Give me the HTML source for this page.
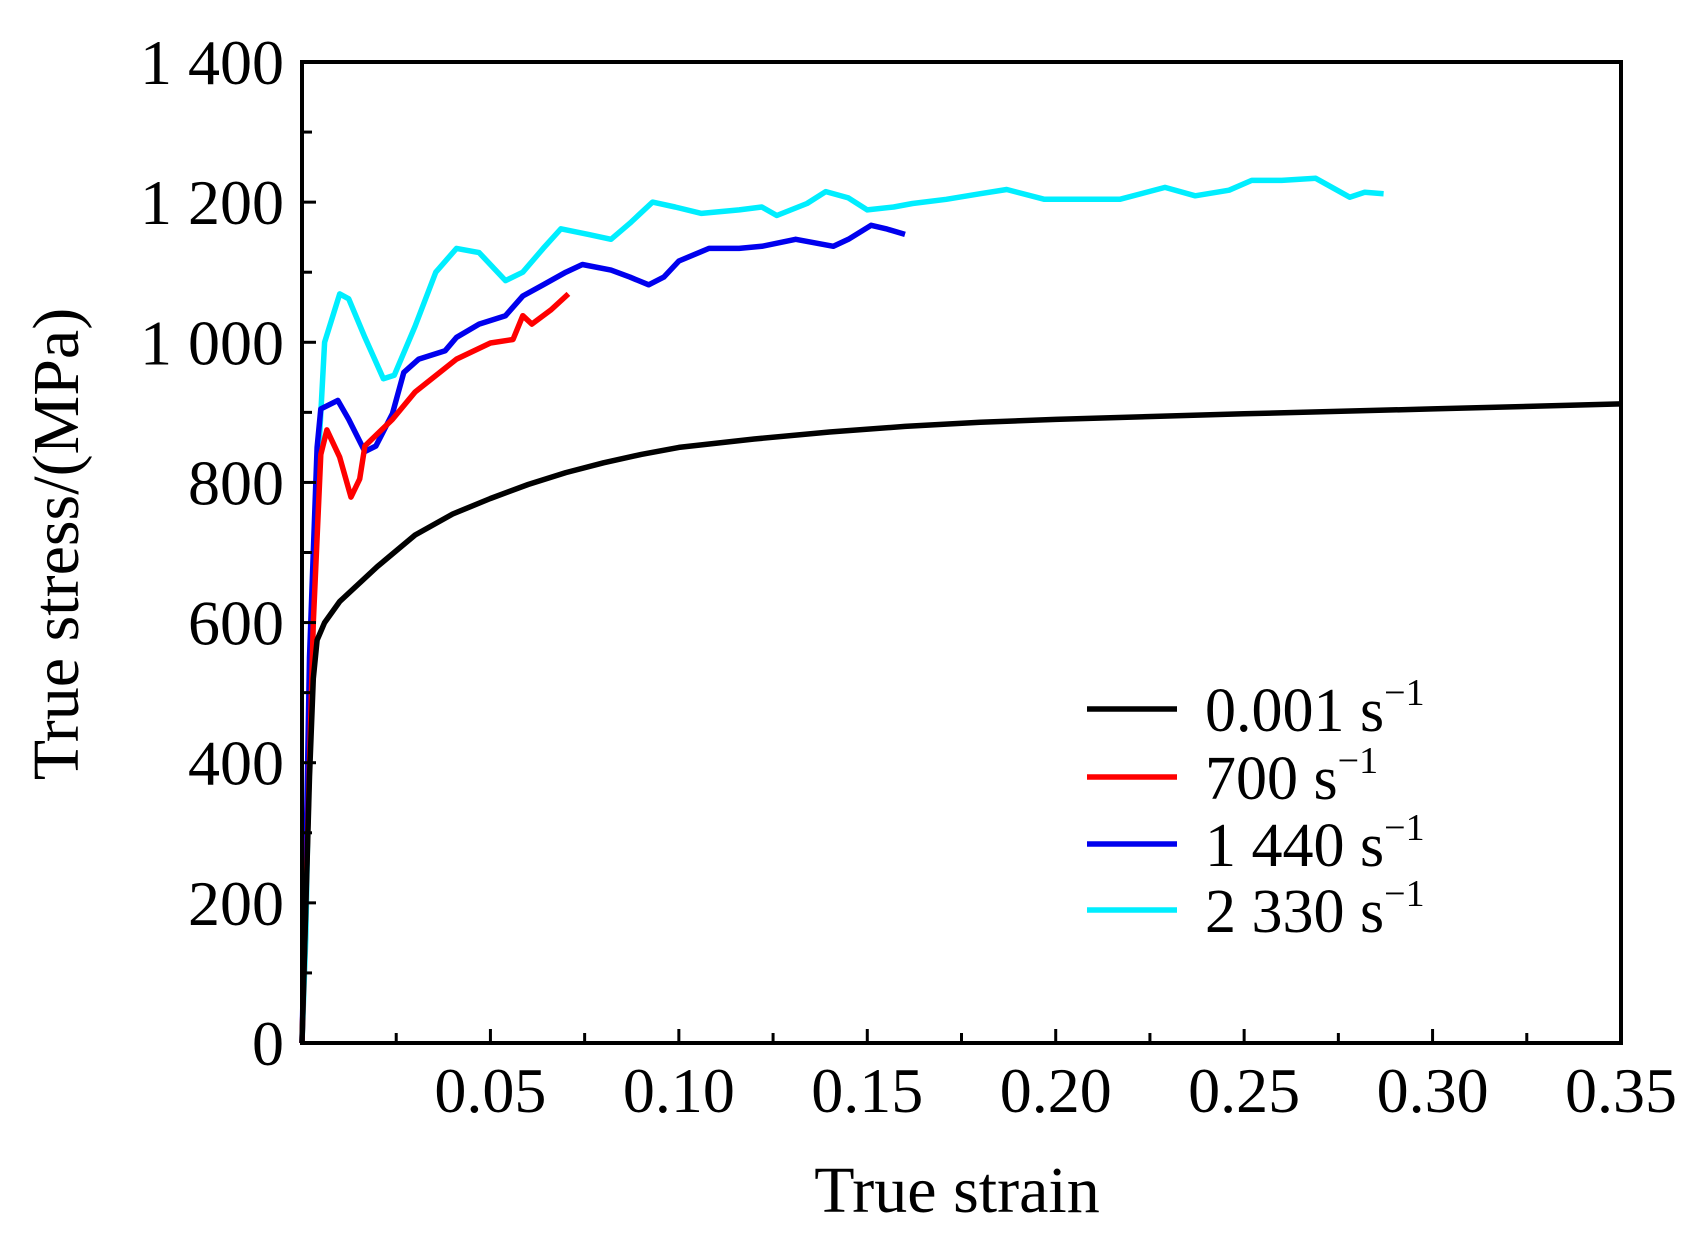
<!DOCTYPE html>
<html><head><meta charset="utf-8"><style>
html,body{margin:0;padding:0;background:#fff;}
svg{display:block;}
text{font-family:"Liberation Serif",serif;fill:#000;}
</style></head><body>
<svg id="chart" width="1705" height="1241" viewBox="0 0 1705 1241">
<g id="marks"></g>
<g id="axes"></g>
<g id="legend"></g>
<text x="957" y="1212" font-size="66" text-anchor="middle">True strain</text>
<text transform="translate(78,544) rotate(-90)" font-size="66" text-anchor="middle">True stress/(MPa)</text>
</svg>
<script>
const xTicks = [0.05,0.10,0.15,0.20,0.25,0.30,0.35];
const xTickLabels = ["0.05","0.10","0.15","0.20","0.25","0.30","0.35"];
const yTicks = [0,200,400,600,800,1000,1200,1400];
const yTickLabels = ["0","200","400","600","800","1 000","1 200","1 400"];
const seriesNames = ["0.001 s","700 s","1 440 s","2 330 s"];
const seriesColors = ["#000000","#ff0000","#0000ee","#00eeff"];
const strain001 = [0,0.002,0.003,0.004,0.006,0.01,0.02,0.03,0.04,0.05,0.06,0.07,0.08,0.09,0.10,0.12,0.14,0.16,0.18,0.20,0.25,0.30,0.35];
const stress001 = [0,380,520,575,600,630,680,725,755,777,797,814,828,840,850,862,872,880,886,890,898,905,912];
const strain700 = [0,0.001,0.003,0.005,0.0066,0.010,0.013,0.0153,0.0167,0.024,0.030,0.041,0.050,0.056,0.0586,0.061,0.066,0.0707];
const stress700 = [0,200,600,840,875,836,779,805,852,890,929,976,999,1004,1038,1026,1046,1069];
const strain1440 = [0,0.001,0.002,0.004,0.005,0.0095,0.0124,0.0167,0.0196,0.024,0.027,0.031,0.038,0.041,0.047,0.054,0.0586,0.064,0.070,0.0744,0.082,0.087,0.092,0.096,0.100,0.108,0.116,0.122,0.131,0.141,0.145,0.151,0.155,0.160];
const stress1440 = [0,250,550,850,905,917,890,844,852,898,957,976,988,1007,1026,1038,1066,1082,1100,1111,1103,1093,1082,1093,1116,1134,1134,1137,1147,1137,1147,1167,1162,1154];
const strain2330 = [0,0.001,0.002,0.004,0.006,0.010,0.0124,0.0167,0.0216,0.0245,0.030,0.0355,0.041,0.047,0.054,0.0586,0.064,0.0687,0.076,0.082,0.087,0.093,0.099,0.106,0.116,0.122,0.126,0.134,0.139,0.145,0.150,0.157,0.162,0.171,0.180,0.187,0.197,0.206,0.217,0.229,0.237,0.246,0.252,0.260,0.269,0.278,0.282,0.287];
const stress2330 = [0,150,450,800,1000,1069,1062,1007,948,953,1023,1100,1134,1128,1088,1100,1134,1162,1154,1147,1170,1200,1193,1184,1189,1193,1181,1198,1215,1206,1189,1193,1198,1204,1212,1218,1204,1204,1204,1221,1209,1217,1231,1231,1234,1207,1214,1212];

const X0=302, X1=1621, Y0=1043, Y1=62;
const sx = v => X0 + v/0.35*(X1-X0);
const sy = v => Y0 - v/1400*(Y0-Y1);
const NS="http://www.w3.org/2000/svg";
function mk(tag, attrs, parent){const e=document.createElementNS(NS,tag);for(const k in attrs)e.setAttribute(k,attrs[k]);parent.appendChild(e);return e;}
const marks=document.getElementById('marks'), axes=document.getElementById('axes'), legend=document.getElementById('legend');

const allX=[strain001,strain700,strain1440,strain2330];
const allY=[stress001,stress700,stress1440,stress2330];
const ids=["curve-0-001","curve-700","curve-1440","curve-2330"];
for(let s=3;s>=0;s--){
  const d=allX[s].map((x,i)=>(i?'L':'M')+sx(x).toFixed(1)+','+sy(allY[s][i]).toFixed(1)).join(' ');
  const p=mk('path',{d:d,fill:'none',stroke:seriesColors[s],'stroke-width':5.5,'stroke-linejoin':'round'},marks);
  
  
}
const fr=mk('rect',{x:X0,y:Y1,width:X1-X0,height:Y0-Y1,fill:'none',stroke:'#000','stroke-width':4},axes);


for(let i=1;i<14;i++){
  const v=i*0.025, len=(i%2===0)?14:10;
  const t=mk('line',{x1:sx(v),x2:sx(v),y1:Y0,y2:Y0-len,stroke:'#000','stroke-width':3},axes);
  
  
}
xTicks.forEach((v,i)=>{
  const t=mk('text',{x:sx(v),y:1112,'font-size':64,'text-anchor':'middle'},axes);
  t.textContent=xTickLabels[i];
  
  
});
for(let i=1;i<14;i++){
  const v=i*100, len=(i%2===0)?14:10;
  const t=mk('line',{x1:X0,x2:X0+len,y1:sy(v),y2:sy(v),stroke:'#000','stroke-width':3},axes);
  
  
}
yTicks.forEach((v,i)=>{
  const t=mk('text',{x:284,y:sy(v)+22,'font-size':64,'text-anchor':'end'},axes);
  t.textContent=yTickLabels[i];
  
  
});
const ly=[709,777,844,910];
seriesNames.forEach((n,i)=>{
  const l=mk('line',{x1:1087,x2:1177,y1:ly[i],y2:ly[i],stroke:seriesColors[i],'stroke-width':5.5},legend);
  
  
  const t=mk('text',{x:1205,y:ly[i]+22,'font-size':62},legend);
  t.textContent=n;
  const sup=mk('tspan',{dy:-26,'font-size':38},t);
  sup.textContent='−1';
  
  
});
</script>
</body></html>
